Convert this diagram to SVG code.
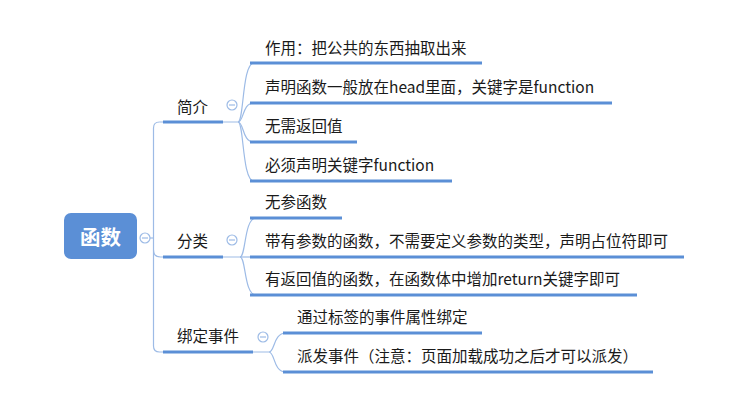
<svg xmlns="http://www.w3.org/2000/svg" width="755" height="414" viewBox="0 0 755 414">
  <defs>
    <style>
      .thin { fill: none; stroke: #9dbbe6; stroke-width: 1.2; }
      .bar { fill: none; stroke: #5b8fd6; stroke-width: 3; }
      .label { font-family: "Noto Sans CJK SC", "Microsoft YaHei", sans-serif; font-size: 15.5px; fill: #1a1a1a; }
      .root-text { font-family: "Noto Sans CJK SC", sans-serif; font-size: 20.5px; font-weight: bold; fill: #ffffff; }
      .fold circle { fill: #ffffff; stroke: #9dbbe6; stroke-width: 1.2; }
      .fold line { stroke: #9dbbe6; stroke-width: 1.2; }
    </style>
  </defs>
  <rect width="755" height="414" fill="#ffffff"/>

  <g id="connectors">
    <!-- root to trunk -->
    <path class="thin" d="M150,238 H153.5"/>
    <!-- trunk -->
    <path class="thin" d="M159.5,122 Q153.5,122 153.5,128 V346 Q153.5,352 159.5,352 H269"/>
    <path class="thin" d="M159.5,122 H238"/>
    <path class="thin" d="M153.5,250 Q153.5,257 160.5,257 H240"/>
    <!-- 简介 bracket -->
    <path class="thin" d="M238,122 C244,122 242,63 254,63"/>
    <path class="thin" d="M238,122 C244,122 242,103 254,103"/>
    <path class="thin" d="M238,122 C244,122 242,142 254,142"/>
    <path class="thin" d="M238,122 C244,122 242,181 254,181"/>
    <!-- 分类 bracket -->
    <path class="thin" d="M240,257 C246,257 244,218 256,218"/>
    <path class="thin" d="M240,257 H256"/>
    <path class="thin" d="M240,257 C246,257 244,295 256,295"/>
    <!-- 绑定事件 bracket -->
    <path class="thin" d="M269,352 C275,352 273,333 286,333"/>
    <path class="thin" d="M269,352 C275,352 273,372 286,372"/>
  </g>

  <g id="root">
    <rect x="64" y="213" width="73" height="46" rx="7" fill="#5b8fd6"/>
    <text class="root-text" x="100.5" y="245" text-anchor="middle">函数</text>
    <g class="fold"><circle cx="145" cy="238" r="5"/><line x1="142" y1="238" x2="148" y2="238"/></g>
  </g>

  <g id="branch-intro">
    <path class="bar" d="M163,122 H223"/>
    <text class="label" x="177" y="113">简介</text>
    <g class="fold"><circle cx="232" cy="105" r="5"/><line x1="229" y1="105" x2="235" y2="105"/></g>
  </g>
  <g id="intro-1">
    <path class="bar" d="M250,63 H482"/>
    <text class="label" x="265" y="54">作用：把公共的东西抽取出来</text>
  </g>
  <g id="intro-2">
    <path class="bar" d="M250,103 H612"/>
    <text class="label" x="265" y="93">声明函数一般放在head里面，关键字是function</text>
  </g>
  <g id="intro-3">
    <path class="bar" d="M250,142 H357"/>
    <text class="label" x="265" y="132">无需返回值</text>
  </g>
  <g id="intro-4">
    <path class="bar" d="M250,181 H452"/>
    <text class="label" x="265" y="171">必须声明关键字function</text>
  </g>

  <g id="branch-types">
    <path class="bar" d="M163,257 H223"/>
    <text class="label" x="177" y="247">分类</text>
    <g class="fold"><circle cx="232" cy="240" r="5"/><line x1="229" y1="240" x2="235" y2="240"/></g>
  </g>
  <g id="types-1">
    <path class="bar" d="M250,218 H342"/>
    <text class="label" x="265" y="208">无参函数</text>
  </g>
  <g id="types-2">
    <path class="bar" d="M250,257 H684"/>
    <text class="label" x="265" y="247">带有参数的函数，不需要定义参数的类型，声明占位符即可</text>
  </g>
  <g id="types-3">
    <path class="bar" d="M250,295 H637"/>
    <text class="label" x="265" y="285">有返回值的函数，在函数体中增加return关键字即可</text>
  </g>

  <g id="branch-events">
    <path class="bar" d="M163,352 H253"/>
    <text class="label" x="177" y="342">绑定事件</text>
    <g class="fold"><circle cx="263" cy="337" r="5"/><line x1="260" y1="337" x2="266" y2="337"/></g>
  </g>
  <g id="events-1">
    <path class="bar" d="M283,333 H482"/>
    <text class="label" x="297" y="323">通过标签的事件属性绑定</text>
  </g>
  <g id="events-2">
    <path class="bar" d="M283,372 H653"/>
    <text class="label" x="297" y="362">派发事件（注意：页面加载成功之后才可以派发）</text>
  </g>
</svg>
